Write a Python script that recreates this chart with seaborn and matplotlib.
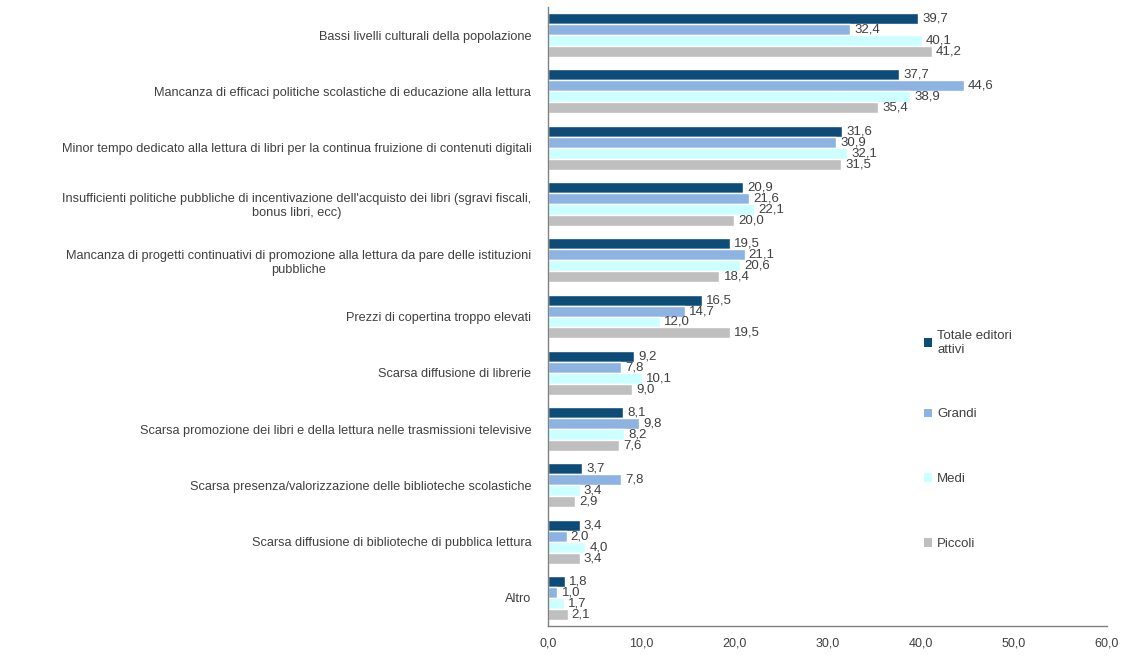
import matplotlib
matplotlib.use("Agg")
import matplotlib.pyplot as plt
from matplotlib.patches import Patch
import seaborn as sns
import pandas as pd

categories = [
    "Bassi livelli culturali della popolazione",
    "Mancanza di efficaci politiche scolastiche di educazione alla lettura",
    "Minor tempo dedicato alla lettura di libri per la continua fruizione di contenuti digitali",
    "Insufficienti politiche pubbliche di incentivazione dell'acquisto dei libri (sgravi fiscali,\nbonus libri, ecc)",
    "Mancanza di progetti continuativi di promozione alla lettura da pare delle istituzioni\npubbliche",
    "Prezzi di copertina troppo elevati",
    "Scarsa diffusione di librerie",
    "Scarsa promozione dei libri e della lettura nelle trasmissioni televisive",
    "Scarsa presenza/valorizzazione delle biblioteche scolastiche",
    "Scarsa diffusione di biblioteche di pubblica lettura",
    "Altro",
]
series_names = ["Totale editori\nattivi", "Grandi", "Medi", "Piccoli"]
totale = [39.7, 37.7, 31.6, 20.9, 19.5, 16.5, 9.2, 8.1, 3.7, 3.4, 1.8]
grandi = [32.4, 44.6, 30.9, 21.6, 21.1, 14.7, 7.8, 9.8, 7.8, 2.0, 1.0]
medi = [40.1, 38.9, 32.1, 22.1, 20.6, 12.0, 10.1, 8.2, 3.4, 4.0, 1.7]
piccoli = [41.2, 35.4, 31.5, 20.0, 18.4, 19.5, 9.0, 7.6, 2.9, 3.4, 2.1]
x_ticks = [0, 10, 20, 30, 40, 50, 60]

colors = ["#0D4C78", "#8DB3E2", "#CCFFFF", "#BFBFBF"]

rows = []
for name, vals in zip(series_names, [totale, grandi, medi, piccoli]):
    for c, v in zip(categories, vals):
        rows.append({"cat": c, "val": v, "serie": name})
df = pd.DataFrame(rows)

sns.set_style("white")
plt.rcParams["font.family"] = ["Liberation Sans", "DejaVu Sans"]

fig = plt.figure(figsize=(11.38, 6.59), dpi=100)
ax = fig.add_axes([548/1138, 1-626/659, (1107-548)/1138, (626-7)/659])

sns.barplot(data=df, y="cat", x="val", hue="serie", orient="h",
            palette=colors, saturation=1, width=0.78, ax=ax, legend=False,
            order=categories, hue_order=series_names)

for cont in ax.containers:
    ax.bar_label(cont, labels=[f"{b.get_width():.1f}".replace(".", ",") for b in cont],
                 padding=3, fontsize=9.5, color="#404040")

ax.set_xlim(0, 60)
ax.set_xticks(x_ticks)
ax.set_xticklabels([f"{t:.1f}".replace(".", ",") for t in x_ticks], fontsize=9, color="#404040")
ax.set_xlabel("")
ax.set_ylabel("")
ax.tick_params(axis="y", labelsize=9.2, pad=12, length=0, colors="#404040")
ax.tick_params(axis="x", pad=8, length=0)
for lab in ax.get_yticklabels():
    lab.set_multialignment("center")
for s in ["top", "right"]:
    ax.spines[s].set_visible(False)
for s in ["left", "bottom"]:
    ax.spines[s].set_color("#808080")
    ax.spines[s].set_linewidth(1)

handles = [Patch(facecolor=c, edgecolor="none") for c in colors]
leg = fig.legend(handles, series_names, loc="upper left",
                 bbox_to_anchor=(912/1138, 1-318/659), frameon=False,
                 fontsize=9.5, handlelength=0.6, handleheight=0.6,
                 handletextpad=0.4, labelspacing=4.0)
for t in leg.get_texts():
    t.set_color("#404040")

fig.savefig("out.png", dpi=100)
